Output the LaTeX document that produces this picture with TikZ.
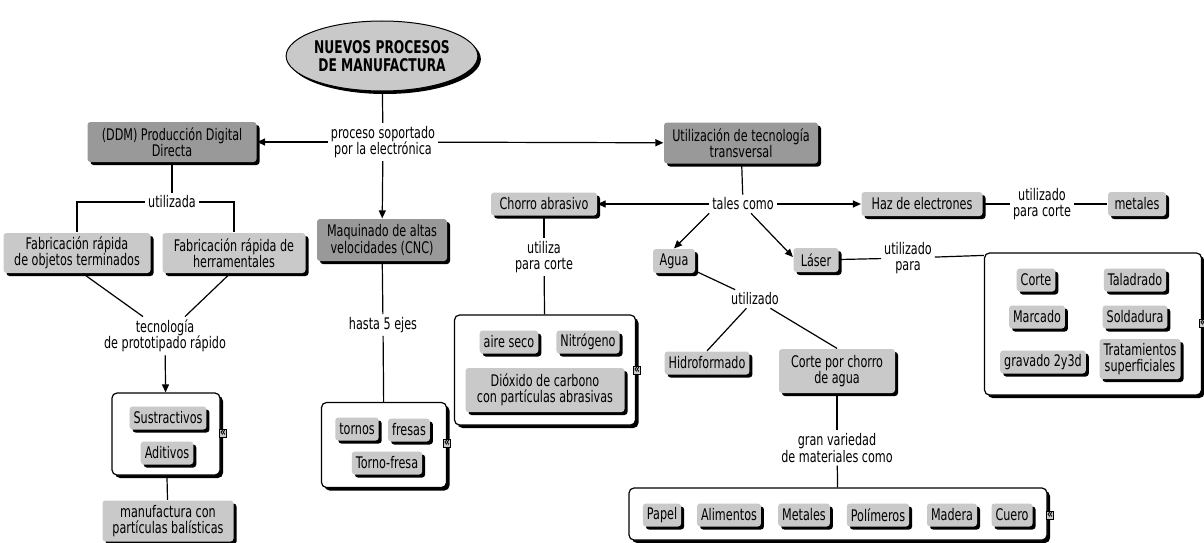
\documentclass[tikz,border=0pt]{standalone}
\usepackage{fontspec}
\setmainfont{DejaVu Sans}[FakeStretch=0.70]
\definecolor{D}{gray}{0.60}
\definecolor{L}{gray}{0.79}
\usepackage{tikz}
\usetikzlibrary{arrows.meta}
\usetikzlibrary{shapes.geometric}
\usetikzlibrary{shadows}
\tikzstyle{base}=[x=1pt, y=-1pt, line width=1.2pt, font=\fontsize{16}{16.5}\selectfont, >={Triangle[length=8pt,width=7pt]}]
\tikzstyle{shade}=[drop shadow={shadow xshift=3pt, shadow yshift=-3pt, fill=black, opacity=1}]
\tikzstyle{root}=[shade, ellipse, draw=black, line width=1pt, fill=L, align=center, inner sep=0pt, font=\fontsize{17.5}{18}\selectfont\bfseries]
\tikzstyle{concept}=[shade, fill=D, rounded corners=3pt, align=center, inner sep=0pt]
\tikzstyle{item}=[shade, fill=L, rounded corners=3pt, align=center, inner xsep=4pt, inner ysep=0pt, minimum height=23pt]
\tikzstyle{frame}=[shade, draw=black, fill=white, rounded corners=5pt]
\tikzstyle{phrase}=[align=center, inner sep=2.5pt]
\tikzstyle{expand}=[draw=black, line width=0.7pt, fill=L, inner xsep=0.3pt, inner ysep=0.5pt, font=\fontsize{13}{13}\selectfont\bfseries]

\begin{document}
\begin{tikzpicture}[base]
    \path [use as bounding box] (0,0) rectangle (1204,543);
        \node [root, minimum width=158pt, minimum height=70pt] (nuevos) at (382,56) {NUEVOS PROCESOS\\DE MANUFACTURA};
        \node [phrase] (soportado) at (383,142) {proceso soportado\\por la electrónica};
        \node [concept, minimum width=169pt, minimum height=40pt] (ddm) at (172,142) {(DDM) Producción Digital\\Directa};
        \node [concept, minimum width=154pt, minimum height=41pt] (util) at (741,143) {Utilización de tecnología\\transversal};
        \node [concept, minimum width=130pt, minimum height=42pt] (cnc) at (382,240) {Maquinado de altas\\velocidades (CNC)};
        \node [phrase] (utilizada) at (172,202) {utilizada};
        \node [item, minimum width=147pt, minimum height=40pt] (fab1) at (77,253) {Fabricación rápida\\de objetos terminados};
        \node [item, minimum width=143pt, minimum height=40pt] (fab2) at (234,253) {Fabricación rápida de\\herramentales};
        \node [phrase] (prototipo) at (165,336) {tecnología\\de prototipado rápido};
        \node [frame, minimum width=108pt, minimum height=82pt] (sust) at (166,434) {};
        \node [item] (sustractivos) at (168,418) {Sustractivos};
        \node [item] (aditivos) at (167,453) {Aditivos};
        \node [expand] (sustx) at (223,433) {«};
        \node [item, minimum width=131pt, minimum height=41pt] (balistica) at (168,521) {manufactura con\\partículas balísticas};
        \node [phrase] (ejes) at (383,325) {hasta 5 ejes};
        \node [frame, minimum width=125pt, minimum height=85pt] (maq) at (384,445) {};
        \node [item] (tornos) at (357,429) {tornos};
        \node [item] (fresas) at (409,430) {fresas};
        \node [item] (tornofresa) at (387,463) {Torno-fresa};
        \node [expand] (maqx) at (447,443) {«};
        \node [phrase] (tales) at (743,204) {tales como};
        \node [concept, fill=L, minimum width=106pt, minimum height=23pt] (chorro) at (544,204) {Chorro abrasivo};
        \node [concept, fill=L, minimum width=121pt, minimum height=24pt] (haz) at (922,204) {Haz de electrones};
        \node [phrase] (paracorte) at (1042,204) {utilizado\\para corte};
        \node [concept, fill=L, minimum width=58pt, minimum height=24pt] (metales) at (1137,204) {metales};
        \node [concept, fill=L, minimum width=42pt, minimum height=24pt] (agua) at (674,261) {Agua};
        \node [concept, fill=L, minimum width=45pt, minimum height=24pt] (laser) at (816,260) {Láser};
        \node [phrase] (utiliza) at (544,257) {utiliza\\para corte};
        \node [frame, minimum width=181pt, minimum height=110pt] (abrasivo) at (545,370) {};
        \node [item] (aire) at (509,342) {aire seco};
        \node [item] (nitrogeno) at (588,342) {Nitrógeno};
        \node [item, minimum width=159pt, minimum height=44pt] (dioxido) at (545,390) {Dióxido de carbono\\con partículas abrasivas};
        \node [expand] (abrasivox) at (637,370) {«};
        \node [phrase] (para) at (908,258) {utilizado\\para};
        \node [frame, minimum width=217pt, minimum height=142pt] (laserapp) at (1093,324) {};
        \node [item] (corte) at (1036,280) {Corte};
        \node [item] (taladrado) at (1135,280) {Taladrado};
        \node [item] (marcado) at (1037,317) {Marcado};
        \node [item] (soldadura) at (1135,317) {Soldadura};
        \node [item] (gravado) at (1043,362) {gravado 2y3d};
        \node [item, minimum height=40pt] (tratamientos) at (1140,359) {Tratamientos\\superficiales};
        \node [expand] (laserappx) at (1203,323) {«};
        \node [phrase] (utilizado) at (755,299) {utilizado};
        \node [item] (hidro) at (707,363) {Hidroformado};
        \node [item, minimum width=116pt, minimum height=44pt] (chorroagua) at (837,371) {Corte por chorro\\de agua};
        \node [phrase] (variedad) at (837,448) {gran variedad\\de materiales como};
        \node [frame, minimum width=418pt, minimum height=52pt] (materiales) at (838,514) {};
        \node [item] (papel) at (662,515) {Papel};
        \node [item] (alimentos) at (729,515) {Alimentos};
        \node [item] (metales2) at (804,515) {Metales};
        \node [item] (polimeros) at (878,515) {Polímeros};
        \node [item] (madera) at (952,515) {Madera};
        \node [item] (cuero) at (1012,515) {Cuero};
        \node [expand] (materialesx) at (1050,515) {«};

        \draw (nuevos) -- (soportado);
        \draw [->] (soportado) -- (ddm);
        \draw [->] (soportado) -- (util);
        \draw [->] (soportado) -- (cnc);
        \draw (ddm) -- (utilizada);
        \draw (utilizada) -| (fab1);
        \draw (utilizada) -| (fab2);
        \draw ([xshift=6pt]fab1.south) -- ([xshift=-22pt]prototipo.north);
        \draw ([xshift=-4pt]fab2.south) -- ([xshift=20pt]prototipo.north);
        \draw [->] (prototipo) -- (sust);
        \draw (sust) -- (balistica);
        \draw (cnc) -- (ejes);
        \draw (ejes) -- (maq);
        \draw (util) -- (tales);
        \draw [->] (tales) -- (chorro);
        \draw [->] (tales) -- (haz);
        \draw [->] (tales.south west) -- (agua.north);
        \draw [->] ([xshift=8pt]tales.south) -- ([yshift=3pt]laser.west);
        \draw (haz) -- (paracorte);
        \draw (paracorte) -- (metales);
        \draw (chorro) -- (utiliza);
        \draw (utiliza) -- (abrasivo);
        \draw (laser) -- (para);
        \draw (para) -- ([yshift=-3pt]laserapp.north west);
        \draw (agua) -- (utilizado);
        \draw (utilizado) -- (hidro.north);
        \draw (utilizado) -- (chorroagua.north);
        \draw (chorroagua) -- (variedad);
        \draw (variedad) -- (materiales);
    \end{tikzpicture}
\end{document}
